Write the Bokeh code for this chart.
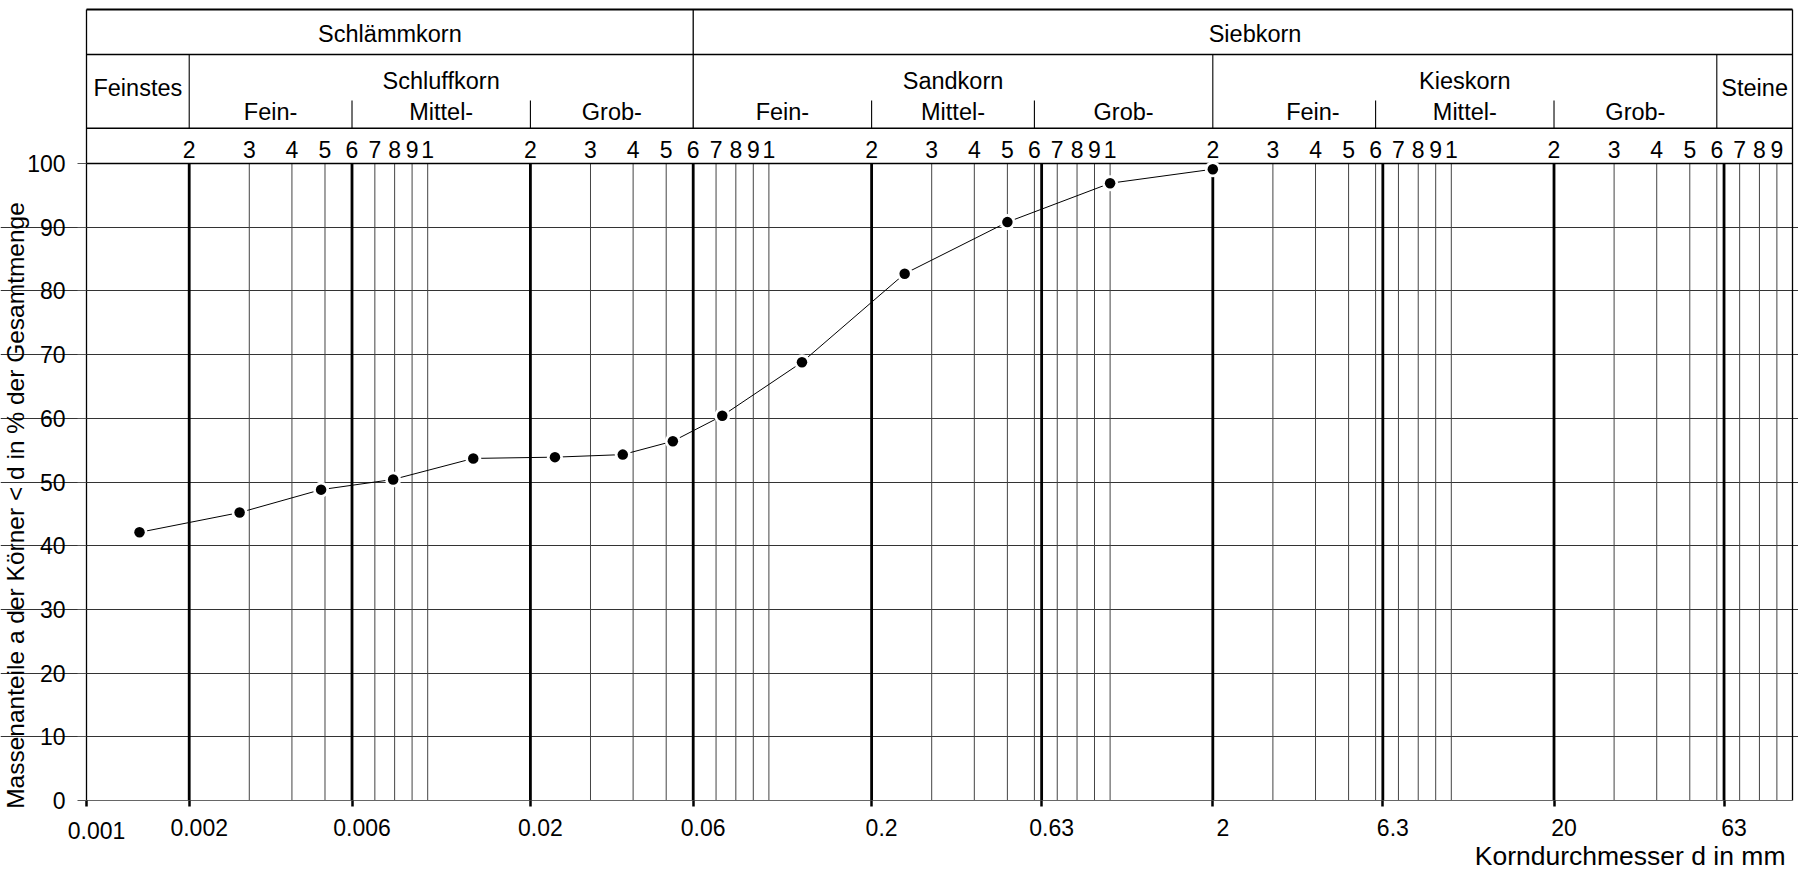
import math
from bokeh.plotting import figure
from bokeh.models import Range1d, FixedTicker
from bokeh.core.properties import value
from bokeh.embed import file_html
from bokeh.resources import INLINE

# ---------------- data ----------------
korn_d = [0.00143, 0.00281, 0.00487, 0.00792, 0.0136, 0.0236, 0.0373, 0.0523,
          0.073, 0.125, 0.25, 0.5, 1.0, 2.0]
anteil = [42.1, 45.2, 48.8, 50.4, 53.7, 53.9, 54.3, 56.4,
          60.4, 68.8, 82.7, 90.8, 96.9, 99.1]

y_ticks = [0, 10, 20, 30, 40, 50, 60, 70, 80, 90, 100]
y_grid = [10, 20, 30, 40, 50, 60, 70, 80, 90]
x_tick_values = [0.001, 0.002, 0.006, 0.02, 0.06, 0.2, 0.63, 2, 6.3, 20, 63]
x_tick_labels = ["0.001", "0.002", "0.006", "0.02", "0.06", "0.2", "0.63", "2", "6.3", "20", "63"]

thick_lines = [0.002, 0.006, 0.02, 0.06, 0.2, 0.63, 2, 6.3, 20, 63]
thin_lines = [0.003, 0.004, 0.005, 0.007, 0.008, 0.009, 0.01,
              0.03, 0.04, 0.05, 0.07, 0.08, 0.09, 0.1,
              0.3, 0.4, 0.5, 0.6, 0.7, 0.8, 0.9, 1,
              3, 4, 5, 6, 7, 8, 9, 10,
              30, 40, 50, 60, 70, 80, 90]

scale_pos = [0.002, 0.003, 0.004, 0.005, 0.006, 0.007, 0.008, 0.009, 0.01,
             0.02, 0.03, 0.04, 0.05, 0.06, 0.07, 0.08, 0.09, 0.1,
             0.2, 0.3, 0.4, 0.5, 0.6, 0.7, 0.8, 0.9, 1,
             2, 3, 4, 5, 6, 7, 8, 9, 10,
             20, 30, 40, 50, 60, 70, 80, 90]
scale_txt = ["2", "3", "4", "5", "6", "7", "8", "9", "1",
             "2", "3", "4", "5", "6", "7", "8", "9", "1",
             "2", "3", "4", "5", "6", "7", "8", "9", "1",
             "2", "3", "4", "5", "6", "7", "8", "9", "1",
             "2", "3", "4", "5", "6", "7", "8", "9"]

row1_labels = ["Schlämmkorn", "Siebkorn"]
row1_x = [0.00775, 2.66]
row2_labels = ["Feinstes", "Schluffkorn", "Sandkorn", "Kieskorn", "Steine"]
row2_x = [0.001414, 0.01095, 0.3464, 10.95, 77.46]
sub_labels = ["Fein-", "Mittel-", "Grob-", "Fein-", "Mittel-", "Grob-", "Fein-", "Mittel-", "Grob-"]
sub_x = [0.003464, 0.010954, 0.034641, 0.10954, 0.34641, 1.0954, 3.93, 10.954, 34.641]

main_dividers = [0.002, 2, 60]
sub_dividers = [0.006, 0.02, 0.2, 0.6, 6, 20]

y_title = "Massenanteile a der Körner < d in % der Gesamtmenge"
x_title = "Korndurchmesser d in mm"

# ---------------- layout (pixels) ----------------
W, H = 1798, 870
X0_PX = 86.0      # pixel column of d = 0.001 mm
DEC_PX = 341.2    # pixels per decade
Y0_PX = 800.0     # pixel row of 0 %
UNIT_PX = 6.37    # pixels per percent


def xd(px):
    return 10 ** (-3 + (px - X0_PX) / DEC_PX)


def yd(py):
    return (Y0_PX - py) / UNIT_PX


FONT = "Liberation Sans"
Y_TOP = yd(9)
Y_ROW1 = yd(54)
Y_ROW2 = yd(127.7)
Y_SUBDIV = yd(100)

p = figure(width=W, height=H, x_axis_type="log",
           x_range=Range1d(xd(0), xd(W)), y_range=Range1d(yd(H), yd(0)),
           output_backend="svg", toolbar_location=None, title=None,
           min_border_left=0, min_border_right=0, min_border_top=0, min_border_bottom=0)
p.background_fill_color = "white"
p.border_fill_color = "white"
p.outline_line_color = None

# axes placed at the chart's own origin
p.xaxis.fixed_location = 0
p.xaxis.bounds = (0.001, 100)
p.xaxis.ticker = FixedTicker(ticks=x_tick_values)
p.xaxis.major_label_overrides = {v: "" for v in x_tick_values}
p.xaxis.major_tick_out = 6
p.xaxis.major_tick_in = 0
p.xaxis.major_tick_line_width = 2.5
p.xaxis.major_tick_line_color = "black"
p.xaxis.minor_tick_line_color = None
p.xaxis.axis_line_color = "#666666"
p.xaxis.axis_line_width = 1.2
p.xaxis.major_label_text_font_size = "1px"

p.yaxis.fixed_location = 0.001
p.yaxis.bounds = (0, Y_TOP)
p.yaxis.ticker = FixedTicker(ticks=y_ticks)
p.yaxis.axis_line_color = "black"
p.yaxis.axis_line_width = 1.3
p.yaxis.major_tick_out = 9
p.yaxis.major_tick_in = 0
p.yaxis.major_tick_line_color = "#555555"
p.yaxis.minor_tick_line_color = None
p.yaxis.major_label_text_font = FONT
p.yaxis.major_label_text_font_size = "23px"
p.yaxis.major_label_text_color = "black"
p.yaxis.major_label_standoff = 12

p.xgrid.visible = False
p.ygrid.ticker = FixedTicker(ticks=y_grid)
p.ygrid.bounds = (0.001, 100)
p.ygrid.grid_line_color = "#333333"
p.ygrid.grid_line_width = 1

# vertical lines of the log paper
p.segment(x0=thin_lines, y0=[0] * len(thin_lines), x1=thin_lines, y1=[100] * len(thin_lines),
          line_color="#444444", line_width=1)
p.segment(x0=thick_lines, y0=[0] * len(thick_lines), x1=thick_lines, y1=[100] * len(thick_lines),
          line_color="black", line_width=2.8)

# frame: right and top borders
p.segment(x0=[100], y0=[0], x1=[100], y1=[Y_TOP], line_color="black", line_width=1.3)
p.segment(x0=[0.001], y0=[Y_TOP], x1=[100], y1=[Y_TOP], line_color="black", line_width=2)

# header horizontal lines
hy = [100, Y_ROW2, Y_ROW1]
p.segment(x0=[0.001] * 3, y0=hy, x1=[100] * 3, y1=hy, line_color="black", line_width=1.6)
# header vertical dividers
p.segment(x0=[0.06], y0=[Y_ROW2], x1=[0.06], y1=[Y_TOP], line_color="black", line_width=1.3)
p.segment(x0=main_dividers, y0=[Y_ROW2] * 3, x1=main_dividers, y1=[Y_ROW1] * 3,
          line_color="black", line_width=1.1)
p.segment(x0=sub_dividers, y0=[Y_ROW2] * 6, x1=sub_dividers, y1=[Y_SUBDIV] * 6,
          line_color="black", line_width=1.1)

txt = dict(text_font=value(FONT), text_font_size="23.5px", text_color="black",
           text_align="center", text_baseline="middle")
p.text(x=row1_x, y=[yd(33.5)] * 2, text=row1_labels, **txt)
p.text(x=row2_x, y=[yd(87), yd(80.5), yd(80.5), yd(80.5), yd(87)], text=row2_labels, **txt)
p.text(x=sub_x, y=[yd(111.5)] * len(sub_x), text=sub_labels, **txt)
p.text(x=scale_pos, y=[yd(149.3)] * len(scale_pos), text=scale_txt,
       text_font=value(FONT), text_font_size="23px", text_color="black",
       text_align="center", text_baseline="middle")

# x tick labels (set slightly right of their lines, as in the original sheet)
label_y = [yd(830)] + [yd(827)] * (len(x_tick_values) - 1)
p.text(x=x_tick_values, y=label_y, text=x_tick_labels, x_offset=10,
       text_font=value(FONT), text_font_size="23px", text_color="black",
       text_align="center", text_baseline="middle")

# grain size curve
p.line(korn_d, anteil, line_color="black", line_width=1)
p.scatter(korn_d, anteil, size=16, fill_color="white", line_color=None)
p.scatter(korn_d, anteil, size=10.5, fill_color="black", line_color=None)

# axis titles
p.text(x=[xd(15)], y=[yd(505)], text=[y_title], angle=math.pi / 2,
       text_font=value(FONT), text_font_size="24.5px", text_color="black",
       text_align="center", text_baseline="middle")
p.text(x=[xd(1785)], y=[yd(855)], text=[x_title],
       text_font=value(FONT), text_font_size="26.5px", text_color="black",
       text_align="right", text_baseline="middle")

open("out.html", "w").write(file_html(p, INLINE))
